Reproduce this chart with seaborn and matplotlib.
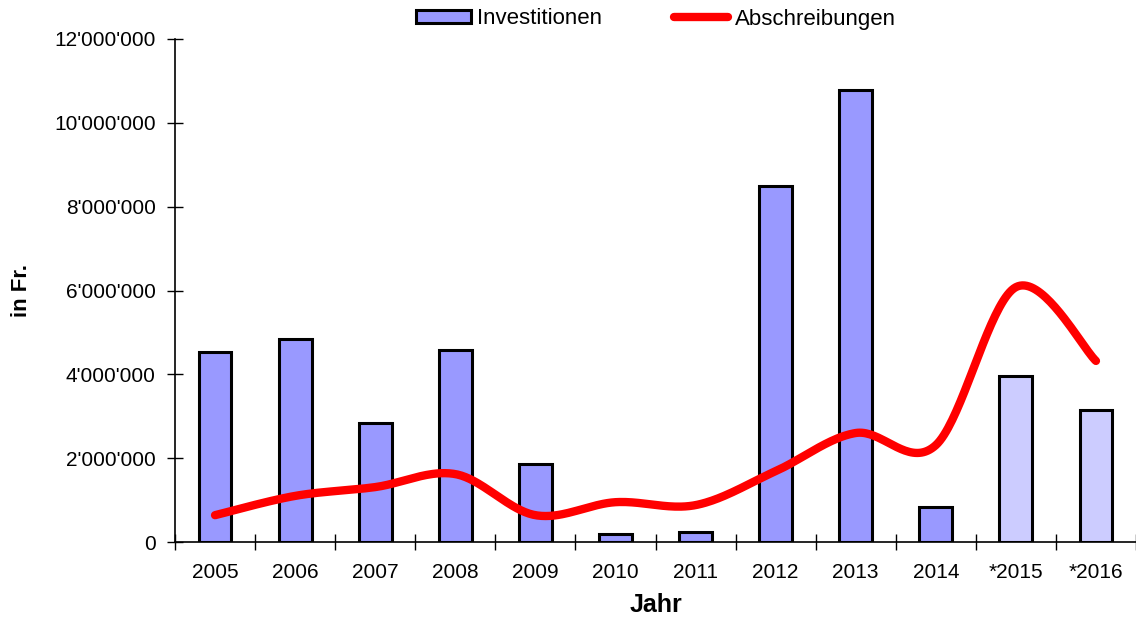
import numpy as np
import pandas as pd
import matplotlib
matplotlib.use("Agg")
import matplotlib.pyplot as plt
import seaborn as sns
from matplotlib.patches import Patch
from matplotlib.lines import Line2D
from matplotlib.ticker import FuncFormatter, FixedLocator

# Jahreswerte
jahre = ["2005", "2006", "2007", "2008", "2009", "2010", "2011",
         "2012", "2013", "2014", "*2015", "*2016"]
investitionen = [4540000, 4850000, 2840000, 4580000, 1860000, 190000, 240000,
                 8490000, 10780000, 830000, 3970000, 3150000]
abschreibungen = [640000, 1100000, 1310000, 1620000, 640000, 950000, 880000,
                  1690000, 2600000, 2310000, 6080000, 4320000]
# Budgetjahre (mit *) heller eingefärbt
farben = ["#9999FF"] * 10 + ["#CCCCFF"] * 2

sns.set_theme(style="white")
plt.rcParams["font.family"] = ["Liberation Sans", "DejaVu Sans"]
plt.rcParams.update({"text.color": "black", "axes.labelcolor": "black",
                     "xtick.color": "black", "ytick.color": "black"})

fig = plt.figure(figsize=(11.36, 6.19), dpi=100)
ax = fig.add_axes([175 / 1136, 77 / 619, 961 / 1136, 503 / 619])

df = pd.DataFrame({"Jahr": jahre, "Investitionen": investitionen})
sns.barplot(data=df, x="Jahr", y="Investitionen", hue="Jahr", palette=farben,
            legend=False, width=0.41, edgecolor="black", linewidth=2.2,
            saturation=1, ax=ax)


def catmull_rom(y, n=40):
    """Glatte Kurve durch die Punkte (Bezier mit 1/6-Kontrollpunkten)."""
    y = np.asarray(y, dtype=float)
    x = np.arange(len(y), dtype=float)
    px = np.concatenate([[x[0]], x, [x[-1]]])
    py = np.concatenate([[y[0]], y, [y[-1]]])
    xs, ys = [], []
    t = np.linspace(0, 1, n)
    for i in range(1, len(px) - 2):
        p0 = np.array([px[i], py[i]])
        p3 = np.array([px[i + 1], py[i + 1]])
        p1 = p0 + (np.array([px[i + 1], py[i + 1]]) - np.array([px[i - 1], py[i - 1]])) / 6
        p2 = p3 - (np.array([px[i + 2], py[i + 2]]) - np.array([px[i], py[i]])) / 6
        b = ((1 - t) ** 3)[:, None] * p0 + (3 * (1 - t) ** 2 * t)[:, None] * p1 \
            + (3 * (1 - t) * t ** 2)[:, None] * p2 + (t ** 3)[:, None] * p3
        xs.append(b[:, 0])
        ys.append(b[:, 1])
    return np.concatenate(xs), np.concatenate(ys)


kx, ky = catmull_rom(abschreibungen)
sns.lineplot(x=kx, y=ky, sort=False, color="#FF0000", linewidth=6,
             solid_capstyle="round", ax=ax)

ax.set_xlim(-0.5, 11.5)
ax.set_ylim(0, 12000000)
ax.set_yticks(np.arange(0, 12000001, 2000000))
ax.yaxis.set_major_formatter(FuncFormatter(lambda v, p: f"{v:,.0f}".replace(",", "'")))

for s in ["top", "right"]:
    ax.spines[s].set_visible(False)
for s in ["left", "bottom"]:
    ax.spines[s].set_color("black")
    ax.spines[s].set_linewidth(1.2)

ax.tick_params(axis="y", which="major", direction="inout", length=12, width=1,
               color="black", labelsize=15, pad=8, left=True)
ax.tick_params(axis="x", which="major", length=0, labelsize=15, pad=15)
ax.xaxis.set_minor_locator(FixedLocator(np.arange(-0.5, 11.6, 1)))
ax.tick_params(axis="x", which="minor", direction="inout", length=12, width=1,
               color="black", bottom=True)

ax.set_xlabel("Jahr", fontsize=18, fontweight="bold", labelpad=8)
ax.set_ylabel("in Fr.", fontsize=16, fontweight="bold", labelpad=16)

handles = [Patch(facecolor="#9999FF", edgecolor="black", linewidth=2.2),
           Line2D([0], [0], color="#FF0000", linewidth=6, solid_capstyle="round")]
fig.legend(handles, ["Investitionen", "Abschreibungen"], loc="center",
           bbox_to_anchor=(656 / 1136, 1 - 19 / 619), ncol=2, frameon=False,
           fontsize=16, handlelength=2.45, handleheight=0.55, handletextpad=0.3,
           columnspacing=3.2)

fig.savefig("out.png", dpi=100)
